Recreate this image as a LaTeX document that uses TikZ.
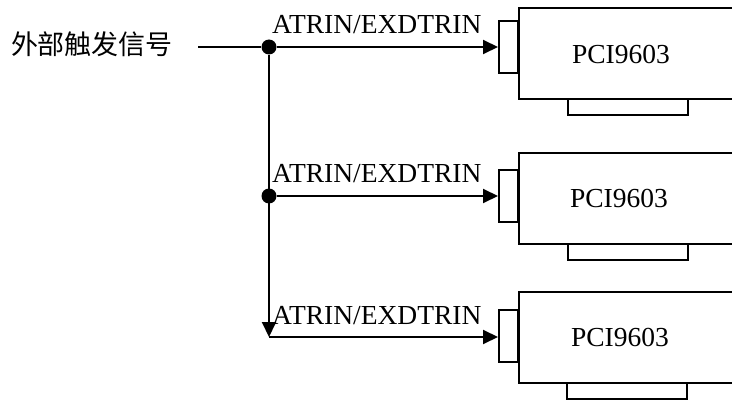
\documentclass[tikz,border=0pt]{standalone}
\usepackage{fontspec}
\setmainfont{Liberation Serif}
\newfontfamily\cjk{Noto Sans CJK SC}
\usepackage{tikz}
\usetikzlibrary{positioning,arrows.meta}

\begin{document}
\begin{tikzpicture}[
    x=1pt,y=-1pt,
    every node/.style={font=\fontsize{27.5}{32}\selectfont},
    sig/.style={line width=2pt,-{Triangle[length=15pt,width=14pt]}},
    wire/.style={line width=2pt},
    dot/.style={circle,fill,inner sep=0,minimum size=15pt},
    card/.style={rectangle,draw,line width=2pt,minimum width=260pt,minimum height=91pt,anchor=north west,inner sep=0},
    port/.style={rectangle,draw,line width=2pt,fill=white,minimum width=19pt,minimum height=52pt,inner sep=0},
    tab/.style={rectangle,draw,line width=2pt,minimum width=120pt,minimum height=16pt,anchor=north,inner sep=0},
    lab/.style={anchor=base west,inner sep=0}
]
\useasboundingbox (0,0) rectangle (732,401);
\clip (0,0) rectangle (732,401);

% Cards (cut off at the right border)
\node[card] (card1) at (518,7)   {};
\node[card] (card2) at (518,152) {};
\node[card] (card3) at (518,291) {};
\node (name1) at (621,54)  {PCI9603};
\node (name2) at (619,198) {PCI9603};
\node (name3) at (620,337) {PCI9603};

% Connectors on the left and tabs below
\node[port] (port1) at (508.5,47)  {};
\node[port] (port2) at (508.5,196) {};
\node[port] (port3) at (508.5,336) {};
\node[tab]  (tab1)  at (628,98)  {};
\node[tab]  (tab2)  at (628,243) {};
\node[tab]  (tab3)  at (627,382) {};

% Trigger source and junctions
\node[font=\cjk\fontsize{27}{32}\selectfont] (src) at (92,44) {外部触发信号};
\coordinate (in) at (198,47);
\node[dot] (j1) at (269,47)  {};
\node[dot] (j2) at (269,196) {};
\coordinate (j3) at (269,337);

% Signal lines
\draw[wire] (in) -- (j1);
\draw[sig]  (j1) -- (j3);
\draw[sig]  (j1) -- (port1.west);
\draw[sig]  (j2) -- (port2.west);
\draw[sig]  (j3) -- (port3.west |- j3);

% Labels above the arrows
\node[lab] (lab1) at (272,34)  {ATRIN/EXDTRIN};
\node[lab] (lab2) at (272,183) {ATRIN/EXDTRIN};
\node[lab] (lab3) at (272,324) {ATRIN/EXDTRIN};

\end{tikzpicture}
\end{document}
